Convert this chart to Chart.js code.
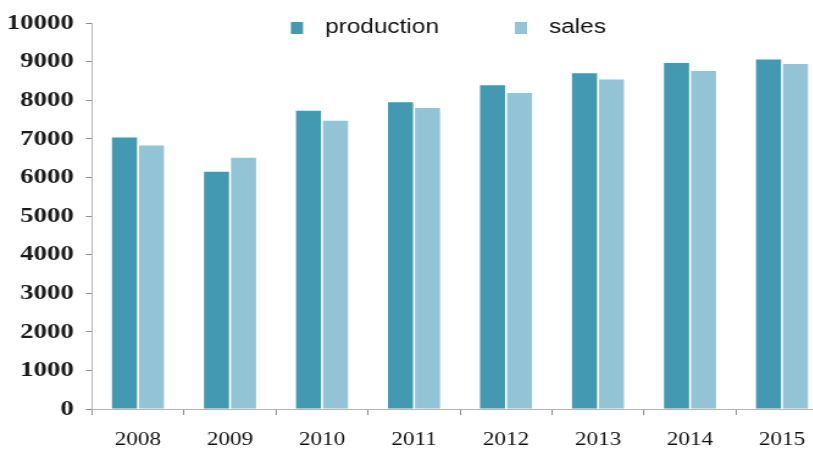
<!DOCTYPE html>
<html>
<head>
<meta charset="utf-8">
<script src="https://cdn.jsdelivr.net/npm/chart.js@4.4.0/dist/chart.umd.min.js"></script>
<style>
  html, body { margin: 0; padding: 0; background: #fff; overflow: hidden; width: 813px; height: 456px; }
  /* the chart is drawn slightly condensed and widened horizontally */
  #wrap { width: 690px; height: 456px; transform: scaleX(1.22); transform-origin: 0 0; }
  canvas { display: block; }
</style>
</head>
<body>
<div id="wrap"><canvas id="chart" width="690" height="456"></canvas></div>
<script>
const years = ['2008', '2009', '2010', '2011', '2012', '2013', '2014', '2015'];
const production = [7040, 6150, 7730, 7950, 8390, 8700, 8970, 9060];
const sales = [6830, 6510, 7470, 7800, 8190, 8540, 8760, 8940];
const yTicks = [0, 1000, 2000, 3000, 4000, 5000, 6000, 7000, 8000, 9000, 10000];

// Legend row at the top: colour square followed by the series name
const topLegend = {
  id: 'topLegend',
  afterDraw(chart, args, opts) {
    const ctx = chart.ctx;
    ctx.save();
    chart.data.datasets.forEach((ds, i) => {
      const x = opts.markerX[i];
      ctx.fillStyle = ds.backgroundColor;
      ctx.fillRect(x - 5, opts.markerY - 6, 10, 12);
      ctx.fillStyle = '#111';
      ctx.font = '20px "Liberation Sans", Arial, sans-serif';
      ctx.textAlign = 'left';
      ctx.textBaseline = 'alphabetic';
      ctx.fillText(ds.label, opts.textX[i], opts.baseline);
    });
    ctx.restore();
  }
};

new Chart(document.getElementById('chart'), {
  type: 'bar',
  data: {
    labels: years,
    datasets: [
      { label: 'production', data: production, backgroundColor: '#4299b1' },
      { label: 'sales', data: sales, backgroundColor: '#93c4d5' }
    ]
  },
  options: {
    responsive: false,
    animation: false,
    layout: { padding: { top: 23, right: 11.3, bottom: 0, left: 0 } },
    datasets: { bar: { categoryPercentage: 0.587, barPercentage: 0.927 } },
    plugins: {
      legend: { display: false },
      tooltip: { enabled: false },
      topLegend: { markerX: [243.4, 427], markerY: 28, textX: [266.4, 450], baseline: 33 }
    },
    scales: {
      x: {
        grid: { drawOnChartArea: false, offset: true, tickLength: 6, color: '#8c8c8c' },
        border: { color: '#b5b5b5', width: 1 },
        ticks: {
          color: '#111',
          padding: 14,
          font: { family: 'Liberation Serif', size: 19 }
        },
        afterFit(scale) { scale.height = 47; }
      },
      y: {
        min: 0,
        max: 10000,
        afterBuildTicks(scale) { scale.ticks = yTicks.map(v => ({ value: v })); },
        grid: { drawOnChartArea: false, tickLength: 5, color: '#8c8c8c' },
        border: { color: '#b5b5b5', width: 1 },
        ticks: {
          color: '#1a1a1a',
          padding: 10,
          callback: (v) => String(v),
          font: { family: 'Liberation Serif', size: 22, weight: 'bold' }
        },
        afterFit(scale) { scale.width = 75.4; }
      }
    }
  },
  plugins: [topLegend]
});
</script>
</body>
</html>
